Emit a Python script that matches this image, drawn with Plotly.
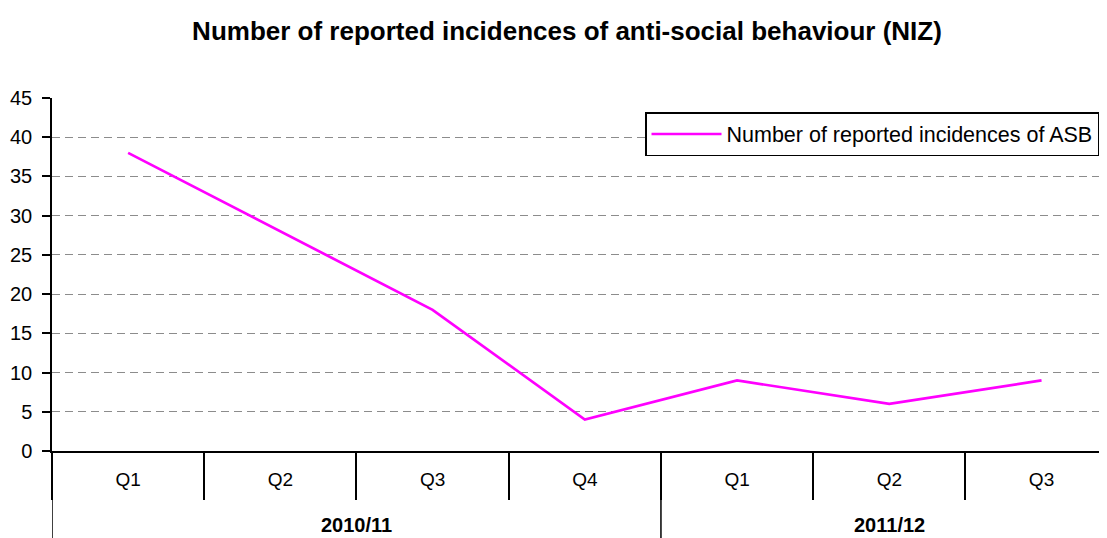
import plotly.graph_objects as go

years = ["2010/11", "2010/11", "2010/11", "2010/11", "2011/12", "2011/12", "2011/12"]
quarters = ["Q1", "Q2", "Q3", "Q4", "Q1", "Q2", "Q3"]
asb = [38, 28, 18, 4, 9, 6, 9]
series_name = "Number of reported incidences of ASB"
title = "Number of reported incidences of anti-social behaviour (NIZ)"

font = "Liberation Sans, Arial, sans-serif"

# the page body has an 8px margin, so the figure is sized to fill the window
W, H = 1099, 530
ML, MT, MB, MR = 44, 90, 87, 0
plot_h = H - MT - MB
plot_w = W - ML - MR

idx = list(range(len(quarters)))

groups = []
for i, yv in enumerate(years):
    if groups and groups[-1][0] == yv:
        groups[-1][2] = i
    else:
        groups.append([yv, i, i])

below = -MB / plot_h

fig = go.Figure()
fig.add_trace(go.Scatter(
    x=idx, y=asb, mode="lines", name=series_name,
    line=dict(color="#ff00ff", width=2.7),
))

annotations = []
shapes = []
for name, a, b in groups:
    annotations.append(dict(
        x=(a + b) / 2, y=-74 / plot_h, xref="x", yref="paper",
        text="<b>" + name + "</b>", showarrow=False, yanchor="middle",
        font=dict(family=font, size=20, color="black"),
    ))
    shapes.append(dict(type="line", xref="x", yref="paper",
                       x0=a - 0.5, x1=a - 0.5, y0=0, y1=below,
                       line=dict(color="black", width=1.5)))

fig.update_layout(
    width=W, height=H,
    margin=dict(l=ML, r=MR, t=MT, b=MB, autoexpand=False),
    paper_bgcolor="white", plot_bgcolor="white",
    title=dict(text="<b>" + title + "</b>", x=559 / W, xanchor="center", y=1 - 23 / H, yanchor="middle",
               font=dict(family=font, size=26, color="black")),
    showlegend=True,
    legend=dict(x=(1091 - ML) / plot_w, xanchor="right", y=(443 - 104) / plot_h, yanchor="top",
                bordercolor="black", borderwidth=1.5, bgcolor="white", itemwidth=70,
                font=dict(family=font, size=21.5, color="black")),
    font=dict(family=font, color="black"),
    annotations=annotations, shapes=shapes,
)

fig.update_xaxes(
    range=[-0.5, 6.43], tickmode="array", tickvals=idx, ticktext=quarters,
    showline=True, linecolor="black", linewidth=1.5,
    ticks="", ticklabelstandoff=10,
    minor=dict(tick0=0.5, dtick=1, ticks="outside", ticklen=47, tickcolor="black", tickwidth=1.5, showgrid=False),
    showgrid=False, zeroline=False, automargin=False,
    tickfont=dict(family=font, size=19, color="black"),
)
fig.update_yaxes(
    range=[0, 45], dtick=5, tick0=0,
    showline=True, linecolor="black", linewidth=1.5,
    ticks="outside", ticklen=8, tickcolor="black", tickwidth=1.5,
    ticklabelstandoff=6,
    showgrid=True, gridcolor="#8c8c8c", gridwidth=1.2, griddash="8px,5px",
    zeroline=False, automargin=False,
    tickfont=dict(family=font, size=20, color="black"),
)

fig.write_html("out.html")
